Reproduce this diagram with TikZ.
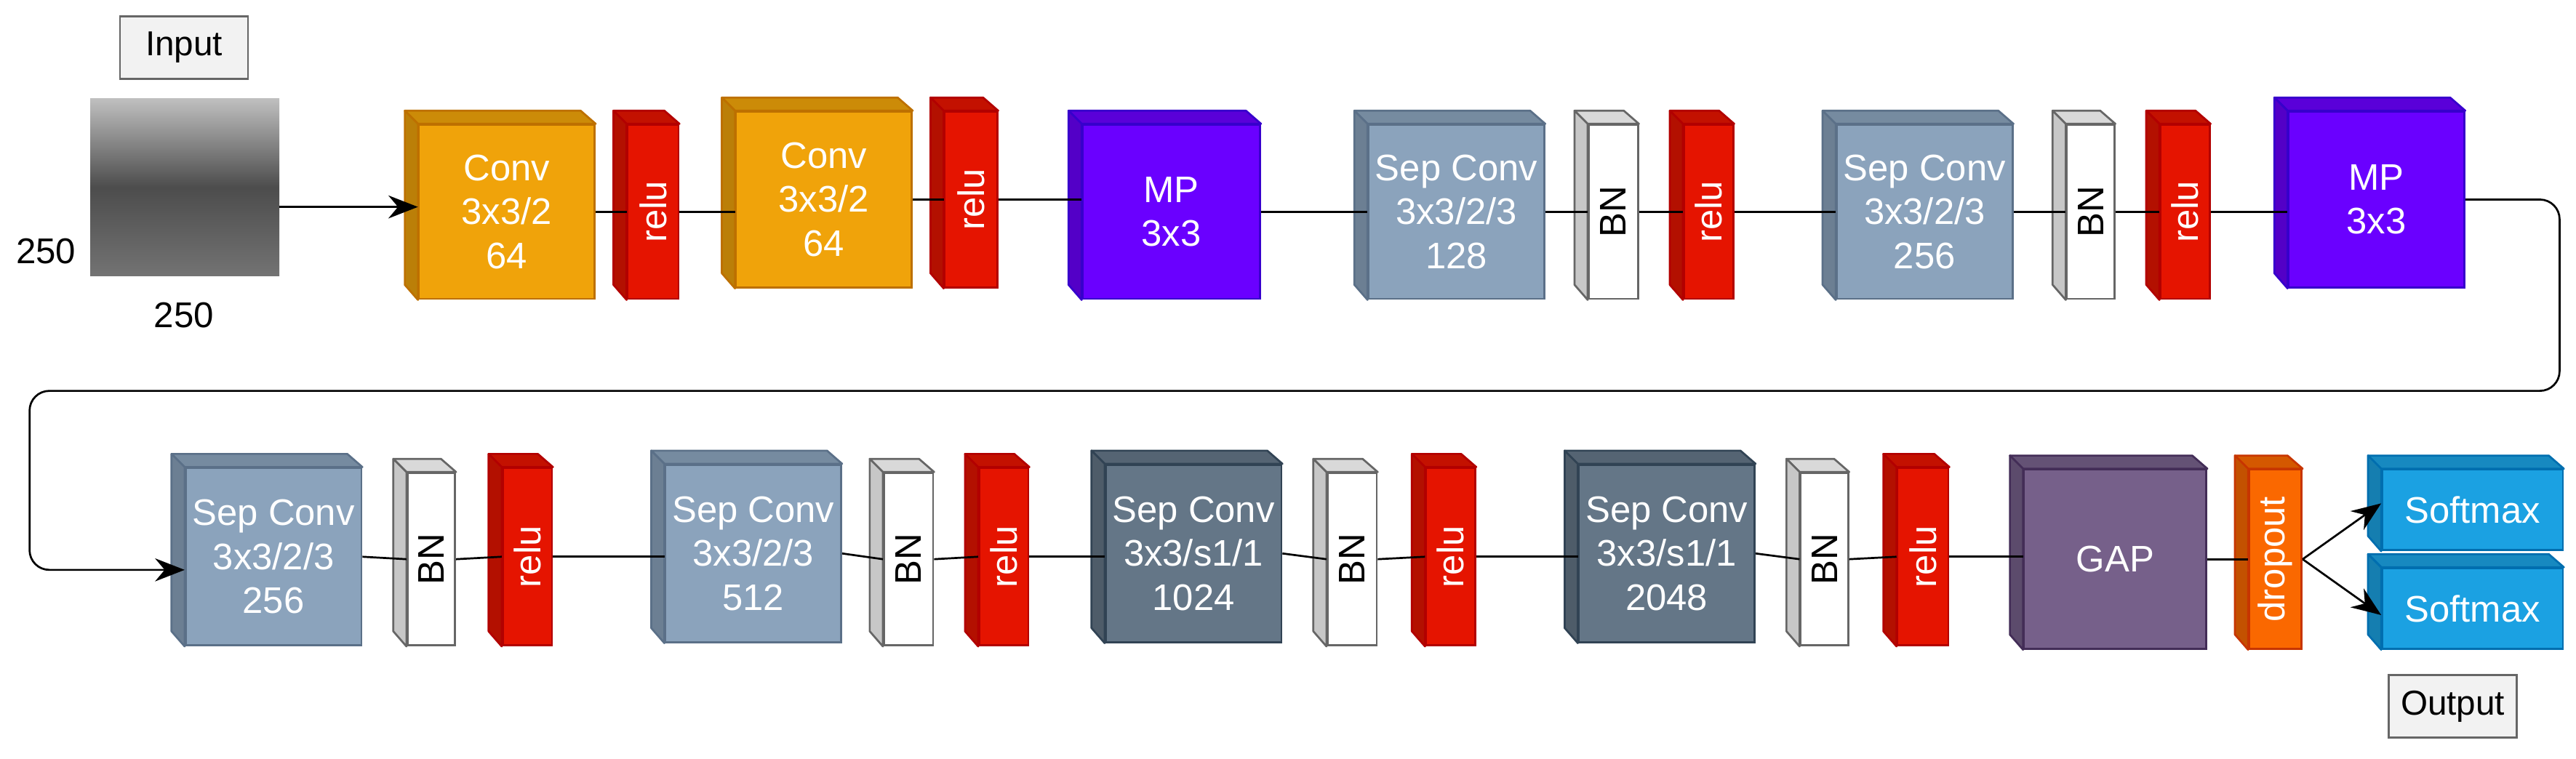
\documentclass[tikz,border=0pt]{standalone}
\usepackage{fontspec}
\setmainfont{Liberation Sans}
\usetikzlibrary{arrows.meta}

% one 3D block: name, x, y, width, height, fill, draw, text
\newcommand{\layer}[8]{%
    \node[layer, fill=#6, draw=#7, minimum width=#4*0.5mm-4mm, minimum height=#5*0.5mm-4mm]
        (#1) at (#2+4+#4/2, #3+4+#5/2) {#8};
    \filldraw[fill=#6!85!black, draw=#7, line width=0.6mm, line join=round]
        (#1.north west) -- ++(-4mm,4mm) -- ++(#4*0.5mm-4mm,0) -- (#1.north east) -- cycle;
    \filldraw[fill=#6!78!black, draw=#7, line width=0.6mm, line join=round]
        (#1.north west) -- ++(-4mm,4mm) -- ++(0,-#5*0.5mm+4mm) -- (#1.south west) -- cycle;
}

\definecolor{convC}{HTML}{F0A30A}  \definecolor{convD}{HTML}{BD7000}
\definecolor{reluC}{HTML}{E51400}  \definecolor{reluD}{HTML}{B20000}
\definecolor{mpC}{HTML}{6A00FF}    \definecolor{mpD}{HTML}{3700CC}
\definecolor{sepC}{HTML}{8BA3BC}   \definecolor{sepD}{HTML}{5B7088}
\definecolor{sepdC}{HTML}{647687}  \definecolor{sepdD}{HTML}{314354}
\definecolor{bnD}{HTML}{666666}
\definecolor{gapC}{HTML}{76608A}   \definecolor{gapD}{HTML}{432D57}
\definecolor{dropC}{HTML}{FA6800}  \definecolor{dropD}{HTML}{C73500}
\definecolor{softC}{HTML}{1BA1E2}  \definecolor{softD}{HTML}{006EAF}

\tikzset{
    layer/.style={rectangle, inner sep=0pt, line width=0.6mm, text=white, align=center,
        font=\fontsize{32}{38}\selectfont},
    tag/.style={rectangle, draw=bnD, fill=black!5, line width=0.6mm, minimum height=19mm,
        minimum width=39mm, inner sep=2mm, font=\fontsize{30}{34}\selectfont},
    dim/.style={font=\fontsize{31}{36}\selectfont},
    link/.style={line width=0.6mm},
    arrow/.style={line width=0.6mm, -{Stealth[length=9mm,width=7mm]}},
}

\begin{document}
\begin{tikzpicture}[x=0.5mm, y=-0.5mm]
    \useasboundingbox (0,0) rectangle (1568,462);

    % input
    \node[tag] (input) at (112,29) {Input};
    \node[minimum width=57.5mm, minimum height=54mm, inner sep=0pt,
        top color=black!25, bottom color=black!55, middle color=black!70, draw=none] (xray) at (112.5,114) {};
    \node[dim] (h250) at (28,153) {250};
    \node[dim] (w250) at (112,192) {250};

    % row 1
    \layer{c1}{247}{68}{115}{114}{convC}{convD}{Conv\\3x3/2\\64}
    \layer{r1}{374}{68}{39}{114}{reluC}{reluD}{\rotatebox{90}{relu}}
    \layer{c2}{440}{60}{115}{115}{convC}{convD}{Conv\\3x3/2\\64}
    \layer{r2}{567}{60}{40}{115}{reluC}{reluD}{\rotatebox{90}{relu}}
    \layer{mp1}{651}{68}{116}{114}{mpC}{mpD}{MP\\3x3}
    \layer{s1}{825}{68}{115}{114}{sepC}{sepD}{Sep Conv\\3x3/2/3\\128}
    \layer{b1}{959}{68}{38}{114}{white}{bnD}{\color{black}\rotatebox{90}{BN}}
    \layer{r3}{1017}{68}{38}{114}{reluC}{reluD}{\rotatebox{90}{relu}}
    \layer{s2}{1110}{68}{115}{114}{sepC}{sepD}{Sep Conv\\3x3/2/3\\256}
    \layer{b2}{1250}{68}{37}{114}{white}{bnD}{\color{black}\rotatebox{90}{BN}}
    \layer{r4}{1307}{68}{38}{114}{reluC}{reluD}{\rotatebox{90}{relu}}
    \layer{mp2}{1385}{60}{115}{115}{mpC}{mpD}{MP\\3x3}

    % row 2
    \layer{s3}{105}{277}{115}{116}{sepC}{sepD}{Sep Conv\\3x3/2/3\\256}
    \layer{b3}{240}{280}{37}{113}{white}{bnD}{\color{black}\rotatebox{90}{BN}}
    \layer{r5}{298}{277}{38}{116}{reluC}{reluD}{\rotatebox{90}{relu}}
    \layer{s4}{397}{275}{115}{116}{sepC}{sepD}{Sep Conv\\3x3/2/3\\512}
    \layer{b4}{530}{280}{38}{113}{white}{bnD}{\color{black}\rotatebox{90}{BN}}
    \layer{r6}{588}{277}{38}{116}{reluC}{reluD}{\rotatebox{90}{relu}}
    \layer{s5}{665}{275}{115}{116}{sepdC}{sepdD}{Sep Conv\\3x3/s1/1\\1024}
    \layer{b5}{800}{280}{38}{113}{white}{bnD}{\color{black}\rotatebox{90}{BN}}
    \layer{r7}{860}{277}{38}{116}{reluC}{reluD}{\rotatebox{90}{relu}}
    \layer{s6}{953}{275}{115}{116}{sepdC}{sepdD}{Sep Conv\\3x3/s1/1\\2048}
    \layer{b6}{1088}{280}{37}{113}{white}{bnD}{\color{black}\rotatebox{90}{BN}}
    \layer{r8}{1147}{277}{39}{116}{reluC}{reluD}{\rotatebox{90}{relu}}
    \layer{gap}{1224}{278}{119}{117}{gapC}{gapD}{GAP}
    \layer{drop}{1361}{278}{40}{117}{dropC}{dropD}{\rotatebox{90}{dropout}}
    \layer{sm1}{1442}{278}{118}{57}{softC}{softD}{Softmax}
    \layer{sm2}{1442}{338}{118}{57}{softC}{softD}{Softmax}
    \node[tag] (output) at (1493,430) {Output};

    % connectors
    \draw[arrow] (xray.east |- 0,126) -- (c1.west |- 0,126);
    \draw[link] (c1.east) -- (r1.west);
    \draw[link] (r1.east) -- (c2.west |- r1.east);
    \draw[link] (c2.east) -- (r2.west);
    \draw[link] (r2.east) -- (mp1.west |- r2.east);
    \draw[link] (mp1.east) -- (s1.west);
    \draw[link] (s1.east) -- (b1.west);
    \draw[link] (b1.east) -- (r3.west);
    \draw[link] (r3.east) -- (s2.west);
    \draw[link] (s2.east) -- (b2.west);
    \draw[link] (b2.east) -- (r4.west);
    \draw[link] (r4.east) -- (mp2.west |- r4.east);
    \coordinate (wrapR) at (1558,238);
    \coordinate (wrapL) at (18,238);
    \draw[arrow, rounded corners=6mm] (mp2.east) -| (wrapR) -- (wrapL) |- ([yshift=-4mm]s3.west);
    \draw[link] (s3.east) -- (b3.west);
    \draw[link] (b3.east) -- (r5.west);
    \draw[link] (r5.east) -- (s4.west |- r5.east);
    \draw[link] (s4.east) -- (b4.west);
    \draw[link] (b4.east) -- (r6.west);
    \draw[link] (r6.east) -- (s5.west |- r6.east);
    \draw[link] (s5.east) -- (b5.west);
    \draw[link] (b5.east) -- (r7.west);
    \draw[link] (r7.east) -- (s6.west |- r7.east);
    \draw[link] (s6.east) -- (b6.west);
    \draw[link] (b6.east) -- (r8.west);
    \draw[link] (r8.east) -- (gap.west |- r8.east);
    \draw[link] (gap.east) -- (drop.west |- gap.east);
    \draw[arrow] (drop.east) -- ([yshift=2mm]sm1.west);
    \draw[arrow] (drop.east) -- ([yshift=-2mm]sm2.west);
\end{tikzpicture}
\end{document}
